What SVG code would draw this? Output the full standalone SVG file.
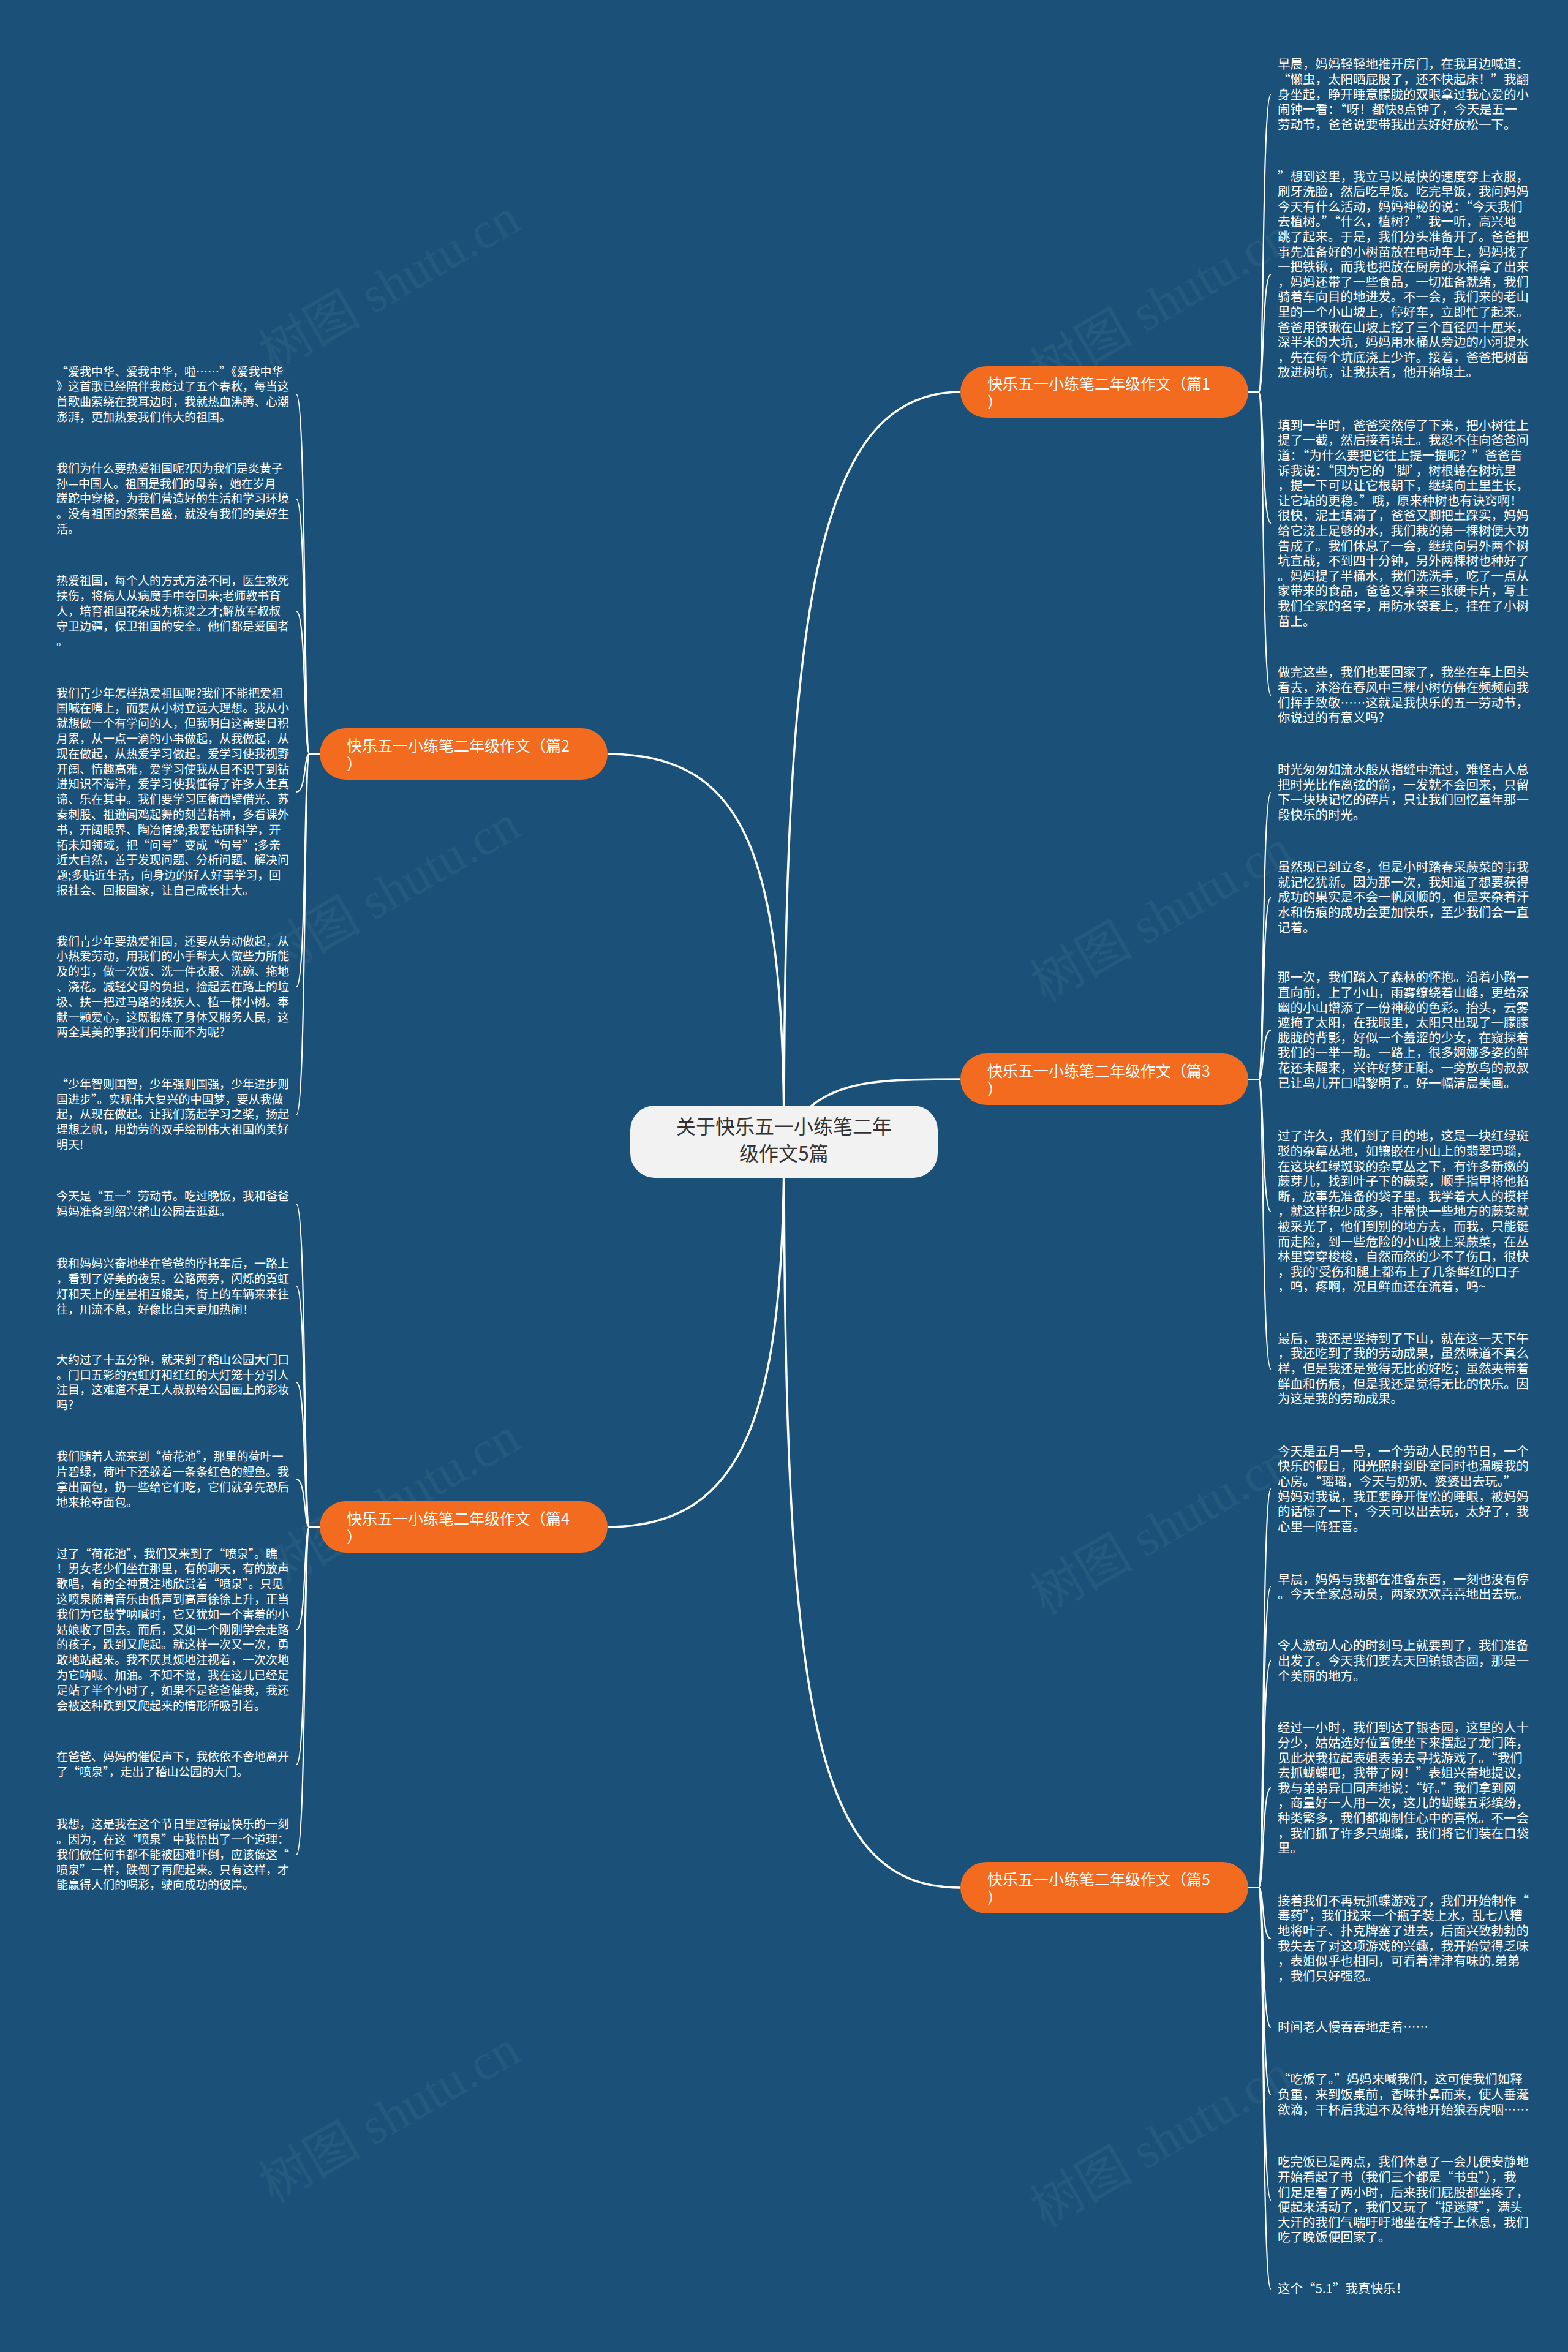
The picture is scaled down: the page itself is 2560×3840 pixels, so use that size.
<svg xmlns="http://www.w3.org/2000/svg" width="2560" height="3840" viewBox="0 0 2560 3840">
<style>
.bg{fill:#1b5178}
.wm{font-family:"Liberation Serif","Noto Sans CJK SC",serif;font-size:84px;fill:#ffffff;fill-opacity:0.05}
.r{font-family:"Noto Sans CJK SC",sans-serif;font-size:20.5px;fill:#ffffff}
.l{font-family:"Noto Sans CJK SC",sans-serif;font-size:19px;fill:#ffffff}
.br rect{fill:#f26b1f}
.br text{font-family:"Noto Sans CJK SC",sans-serif;font-size:25px;fill:#ffffff}
.main{fill:none;stroke:#ffffff;stroke-width:3.5}
.sub{fill:none;stroke:#ffffff;stroke-width:2.2}
</style>
<rect class="bg" x="0" y="0" width="2560" height="3840"/>
<g id="watermarks">
<text class="wm" x="650" y="490" text-anchor="middle" transform="rotate(-30 650 490)">树图 shutu.cn</text>
<text class="wm" x="1910" y="520" text-anchor="middle" transform="rotate(-30 1910 520)">树图 shutu.cn</text>
<text class="wm" x="650" y="1480" text-anchor="middle" transform="rotate(-30 650 1480)">树图 shutu.cn</text>
<text class="wm" x="1910" y="1520" text-anchor="middle" transform="rotate(-30 1910 1520)">树图 shutu.cn</text>
<text class="wm" x="650" y="2480" text-anchor="middle" transform="rotate(-30 650 2480)">树图 shutu.cn</text>
<text class="wm" x="1910" y="2520" text-anchor="middle" transform="rotate(-30 1910 2520)">树图 shutu.cn</text>
<text class="wm" x="650" y="3480" text-anchor="middle" transform="rotate(-30 650 3480)">树图 shutu.cn</text>
<text class="wm" x="1910" y="3520" text-anchor="middle" transform="rotate(-30 1910 3520)">树图 shutu.cn</text>
</g>
<g id="connectors">
<path class="main" d="M1280,1864 C1280,1000 1330,640 1568,640"/>
<path class="main" d="M1280,1864 C1280,1400 1220,1231 992,1231"/>
<path class="main" d="M1280,1864 C1330,1762 1420,1762 1568,1762"/>
<path class="main" d="M1280,1864 C1280,2300 1220,2493 992,2493"/>
<path class="main" d="M1280,1864 C1280,2800 1330,3082 1568,3082"/>
<g id="c1">
<path class="sub" d="M2038,640 L2055,640 C2064,640 2060,154 2075,154"/>
<path class="sub" d="M2038,640 L2055,640 C2064,640 2060,448 2075,448"/>
<path class="sub" d="M2038,640 L2055,640 C2064,640 2060,854 2075,854"/>
<path class="sub" d="M2038,640 L2055,640 C2064,640 2060,1135 2075,1135"/>
</g>
<g id="c3">
<path class="sub" d="M2038,1762 L2055,1762 C2064,1762 2060,1294 2075,1294"/>
<path class="sub" d="M2038,1762 L2055,1762 C2064,1762 2060,1465 2075,1465"/>
<path class="sub" d="M2038,1762 L2055,1762 C2064,1762 2060,1682 2075,1682"/>
<path class="sub" d="M2038,1762 L2055,1762 C2064,1762 2060,1978 2075,1978"/>
<path class="sub" d="M2038,1762 L2055,1762 C2064,1762 2060,2235 2075,2235"/>
</g>
<g id="c5">
<path class="sub" d="M2038,3082 L2055,3082 C2064,3082 2060,2431 2075,2431"/>
<path class="sub" d="M2038,3082 L2055,3082 C2064,3082 2060,2590 2075,2590"/>
<path class="sub" d="M2038,3082 L2055,3082 C2064,3082 2060,2712 2075,2712"/>
<path class="sub" d="M2038,3082 L2055,3082 C2064,3082 2060,2919 2075,2919"/>
<path class="sub" d="M2038,3082 L2055,3082 C2064,3082 2060,3165 2075,3165"/>
<path class="sub" d="M2038,3082 L2055,3082 C2064,3082 2060,3310 2075,3310"/>
<path class="sub" d="M2038,3082 L2055,3082 C2064,3082 2060,3420 2075,3420"/>
<path class="sub" d="M2038,3082 L2055,3082 C2064,3082 2060,3592 2075,3592"/>
<path class="sub" d="M2038,3082 L2055,3082 C2064,3082 2060,3737 2075,3737"/>
</g>
<g id="c2">
<path class="sub" d="M522,1231 L505,1231 C496,1231 500,644 484,644"/>
<path class="sub" d="M522,1231 L505,1231 C496,1231 500,815 484,815"/>
<path class="sub" d="M522,1231 L505,1231 C496,1231 500,998 484,998"/>
<path class="sub" d="M522,1231 L505,1231 C496,1231 500,1293 484,1293"/>
<path class="sub" d="M522,1231 L505,1231 C496,1231 500,1611 484,1611"/>
<path class="sub" d="M522,1231 L505,1231 C496,1231 500,1820 484,1820"/>
</g>
<g id="c4">
<path class="sub" d="M522,2493 L505,2493 C496,2493 500,1966 484,1966"/>
<path class="sub" d="M522,2493 L505,2493 C496,2493 500,2100 484,2100"/>
<path class="sub" d="M522,2493 L505,2493 C496,2493 500,2257 484,2257"/>
<path class="sub" d="M522,2493 L505,2493 C496,2493 500,2415 484,2415"/>
<path class="sub" d="M522,2493 L505,2493 C496,2493 500,2661 484,2661"/>
<path class="sub" d="M522,2493 L505,2493 C496,2493 500,2881 484,2881"/>
<path class="sub" d="M522,2493 L505,2493 C496,2493 500,3028 484,3028"/>
</g>
</g>
<g id="center">
<rect x="1029" y="1805" width="502" height="118" rx="40" fill="#f2f2f2"/>
<text x="1280" y="1851" text-anchor="middle" font-family="Noto Sans CJK SC, sans-serif" font-size="32" fill="#333333"><tspan x="1280">关于快乐五一小练笔二年</tspan><tspan x="1280" dy="44">级作文5篇</tspan></text>
</g>
<g id="b1" class="br"><rect x="1568" y="598" width="470" height="84" rx="42"/><text x="1612" y="636"><tspan x="1612">快乐五一小练笔二年级作文（篇1</tspan><tspan x="1612" dy="30">）</tspan></text></g>
<g id="b2" class="br"><rect x="522" y="1189" width="470" height="84" rx="42"/><text x="566" y="1227"><tspan x="566">快乐五一小练笔二年级作文（篇2</tspan><tspan x="566" dy="30">）</tspan></text></g>
<g id="b3" class="br"><rect x="1568" y="1720" width="470" height="84" rx="42"/><text x="1612" y="1758"><tspan x="1612">快乐五一小练笔二年级作文（篇3</tspan><tspan x="1612" dy="30">）</tspan></text></g>
<g id="b4" class="br"><rect x="522" y="2451" width="470" height="84" rx="42"/><text x="566" y="2489"><tspan x="566">快乐五一小练笔二年级作文（篇4</tspan><tspan x="566" dy="30">）</tspan></text></g>
<g id="b5" class="br"><rect x="1568" y="3040" width="470" height="84" rx="42"/><text x="1612" y="3078"><tspan x="1612">快乐五一小练笔二年级作文（篇5</tspan><tspan x="1612" dy="30">）</tspan></text></g>

<g id="p1-leaves">
<text class="r" y="112.4"><tspan x="2086">早晨，妈妈轻轻地推开房门，在我耳边喊道：</tspan><tspan x="2086" dy="24.6">“懒虫，太阳晒屁股了，还不快起床！”我翻</tspan><tspan x="2086" dy="24.6">身坐起，睁开睡意朦胧的双眼拿过我心爱的小</tspan><tspan x="2086" dy="24.6">闹钟一看：“呀！都快8点钟了，今天是五一</tspan><tspan x="2086" dy="24.6">劳动节，爸爸说要带我出去好好放松一下。</tspan></text>
<text class="r" y="295.6"><tspan x="2086">”想到这里，我立马以最快的速度穿上衣服，</tspan><tspan x="2086" dy="24.6">刷牙洗脸，然后吃早饭。吃完早饭，我问妈妈</tspan><tspan x="2086" dy="24.6">今天有什么活动，妈妈神秘的说：“今天我们</tspan><tspan x="2086" dy="24.6">去植树。”“什么，植树？”我一听，高兴地</tspan><tspan x="2086" dy="24.6">跳了起来。于是，我们分头准备开了。爸爸把</tspan><tspan x="2086" dy="24.6">事先准备好的小树苗放在电动车上，妈妈找了</tspan><tspan x="2086" dy="24.6">一把铁锹，而我也把放在厨房的水桶拿了出来</tspan><tspan x="2086" dy="24.6">，妈妈还带了一些食品，一切准备就绪，我们</tspan><tspan x="2086" dy="24.6">骑着车向目的地进发。不一会，我们来的老山</tspan><tspan x="2086" dy="24.6">里的一个小山坡上，停好车，立即忙了起来。</tspan><tspan x="2086" dy="24.6">爸爸用铁锹在山坡上挖了三个直径四十厘米，</tspan><tspan x="2086" dy="24.6">深半米的大坑，妈妈用水桶从旁边的小河提水</tspan><tspan x="2086" dy="24.6">，先在每个坑底浇上少许。接着，爸爸把树苗</tspan><tspan x="2086" dy="24.6">放进树坑，让我扶着，他开始填土。</tspan></text>
<text class="r" y="701.7"><tspan x="2086">填到一半时，爸爸突然停了下来，把小树往上</tspan><tspan x="2086" dy="24.6">提了一截，然后接着填土。我忍不住向爸爸问</tspan><tspan x="2086" dy="24.6">道：“为什么要把它往上提一提呢？”爸爸告</tspan><tspan x="2086" dy="24.6">诉我说：“因为它的‘脚’，树根蜷在树坑里</tspan><tspan x="2086" dy="24.6">，提一下可以让它根朝下，继续向土里生长，</tspan><tspan x="2086" dy="24.6">让它站的更稳。”哦，原来种树也有诀窍啊！</tspan><tspan x="2086" dy="24.6">很快，泥土填满了，爸爸又脚把土踩实，妈妈</tspan><tspan x="2086" dy="24.6">给它浇上足够的水，我们栽的第一棵树便大功</tspan><tspan x="2086" dy="24.6">告成了。我们休息了一会，继续向另外两个树</tspan><tspan x="2086" dy="24.6">坑宣战，不到四十分钟，另外两棵树也种好了</tspan><tspan x="2086" dy="24.6">。妈妈提了半桶水，我们洗洗手，吃了一点从</tspan><tspan x="2086" dy="24.6">家带来的食品，爸爸又拿来三张硬卡片，写上</tspan><tspan x="2086" dy="24.6">我们全家的名字，用防水袋套上，挂在了小树</tspan><tspan x="2086" dy="24.6">苗上。</tspan></text>
<text class="r" y="1105.4"><tspan x="2086">做完这些，我们也要回家了，我坐在车上回头</tspan><tspan x="2086" dy="24.6">看去，沐浴在春风中三棵小树仿佛在频频向我</tspan><tspan x="2086" dy="24.6">们挥手致敬……这就是我快乐的五一劳动节，</tspan><tspan x="2086" dy="24.6">你说过的有意义吗?</tspan></text>
</g>

<g id="p3-leaves">
<text class="r" y="1264.2"><tspan x="2086">时光匆匆如流水般从指缝中流过，难怪古人总</tspan><tspan x="2086" dy="24.6">把时光比作离弦的箭，一发就不会回来，只留</tspan><tspan x="2086" dy="24.6">下一块块记忆的碎片，只让我们回忆童年那一</tspan><tspan x="2086" dy="24.6">段快乐的时光。</tspan></text>
<text class="r" y="1423.1"><tspan x="2086">虽然现已到立冬，但是小时踏春采蕨菜的事我</tspan><tspan x="2086" dy="24.6">就记忆犹新。因为那一次，我知道了想要获得</tspan><tspan x="2086" dy="24.6">成功的果实是不会一帆风顺的，但是夹杂着汗</tspan><tspan x="2086" dy="24.6">水和伤痕的成功会更加快乐，至少我们会一直</tspan><tspan x="2086" dy="24.6">记着。</tspan></text>
<text class="r" y="1603.4"><tspan x="2086">那一次，我们踏入了森林的怀抱。沿着小路一</tspan><tspan x="2086" dy="24.6">直向前，上了小山，雨雾缭绕着山峰，更给深</tspan><tspan x="2086" dy="24.6">幽的小山增添了一份神秘的色彩。抬头，云雾</tspan><tspan x="2086" dy="24.6">遮掩了太阳，在我眼里，太阳只出现了一朦朦</tspan><tspan x="2086" dy="24.6">胧胧的背影，好似一个羞涩的少女，在窥探着</tspan><tspan x="2086" dy="24.6">我们的一举一动。一路上，很多婀娜多姿的鲜</tspan><tspan x="2086" dy="24.6">花还未醒来，兴许好梦正酣。一旁放鸟的叔叔</tspan><tspan x="2086" dy="24.6">已让鸟儿开口唱黎明了。好一幅清晨美画。</tspan></text>
<text class="r" y="1862.4"><tspan x="2086">过了许久，我们到了目的地，这是一块红绿斑</tspan><tspan x="2086" dy="24.6">驳的杂草丛地，如镶嵌在小山上的翡翠玛瑙，</tspan><tspan x="2086" dy="24.6">在这块红绿斑驳的杂草丛之下，有许多新嫩的</tspan><tspan x="2086" dy="24.6">蕨芽儿，找到叶子下的蕨菜，顺手指甲将他掐</tspan><tspan x="2086" dy="24.6">断，放事先准备的袋子里。我学着大人的模样</tspan><tspan x="2086" dy="24.6">，就这样积少成多，非常快一些地方的蕨菜就</tspan><tspan x="2086" dy="24.6">被采光了，他们到别的地方去，而我，只能铤</tspan><tspan x="2086" dy="24.6">而走险，到一些危险的小山坡上采蕨菜，在丛</tspan><tspan x="2086" dy="24.6">林里穿穿梭梭，自然而然的少不了伤口，很快</tspan><tspan x="2086" dy="24.6">，我的'受伤和腿上都布上了几条鲜红的口子</tspan><tspan x="2086" dy="24.6">，呜，疼啊，况且鲜血还在流着，呜~</tspan></text>
<text class="r" y="2192.8"><tspan x="2086">最后，我还是坚持到了下山，就在这一天下午</tspan><tspan x="2086" dy="24.6">，我还吃到了我的劳动成果，虽然味道不真么</tspan><tspan x="2086" dy="24.6">样，但是我还是觉得无比的好吃；虽然夹带着</tspan><tspan x="2086" dy="24.6">鲜血和伤痕，但是我还是觉得无比的快乐。因</tspan><tspan x="2086" dy="24.6">为这是我的劳动成果。</tspan></text>
</g>

<g id="p5-leaves">
<text class="r" y="2376.7"><tspan x="2086">今天是五月一号，一个劳动人民的节日，一个</tspan><tspan x="2086" dy="24.6">快乐的假日，阳光照射到卧室同时也温暖我的</tspan><tspan x="2086" dy="24.6">心房。“瑶瑶，今天与奶奶、婆婆出去玩。”</tspan><tspan x="2086" dy="24.6">妈妈对我说，我正要睁开惺忪的睡眼，被妈妈</tspan><tspan x="2086" dy="24.6">的话惊了一下，今天可以出去玩，太好了，我</tspan><tspan x="2086" dy="24.6">心里一阵狂喜。</tspan></text>
<text class="r" y="2585.6"><tspan x="2086">早晨，妈妈与我都在准备东西，一刻也没有停</tspan><tspan x="2086" dy="24.6">。今天全家总动员，两家欢欢喜喜地出去玩。</tspan></text>
<text class="r" y="2694.4"><tspan x="2086">令人激动人心的时刻马上就要到了，我们准备</tspan><tspan x="2086" dy="24.6">出发了。今天我们要去天回镇银杏园，那是一</tspan><tspan x="2086" dy="24.6">个美丽的地方。</tspan></text>
<text class="r" y="2828.4"><tspan x="2086">经过一小时，我们到达了银杏园，这里的人十</tspan><tspan x="2086" dy="24.6">分少，姑姑选好位置便坐下来摆起了龙门阵，</tspan><tspan x="2086" dy="24.6">见此状我拉起表姐表弟去寻找游戏了。“我们</tspan><tspan x="2086" dy="24.6">去抓蝴蝶吧，我带了网！”表姐兴奋地提议，</tspan><tspan x="2086" dy="24.6">我与弟弟异口同声地说：“好。”我们拿到网</tspan><tspan x="2086" dy="24.6">，商量好一人用一次，这儿的蝴蝶五彩缤纷，</tspan><tspan x="2086" dy="24.6">种类繁多，我们都抑制住心中的喜悦。不一会</tspan><tspan x="2086" dy="24.6">，我们抓了许多只蝴蝶，我们将它们装在口袋</tspan><tspan x="2086" dy="24.6">里。</tspan></text>
<text class="r" y="3110.7"><tspan x="2086">接着我们不再玩抓蝶游戏了，我们开始制作“</tspan><tspan x="2086" dy="24.6">毒药”，我们找来一个瓶子装上水，乱七八糟</tspan><tspan x="2086" dy="24.6">地将叶子、扑克牌塞了进去，后面兴致勃勃的</tspan><tspan x="2086" dy="24.6">我失去了对这项游戏的兴趣，我开始觉得乏味</tspan><tspan x="2086" dy="24.6">，表姐似乎也相同，可看着津津有味的.弟弟</tspan><tspan x="2086" dy="24.6">，我们只好强忍。</tspan></text>
<text class="r" y="3317.4"><tspan x="2086">时间老人慢吞吞地走着……</tspan></text>
<text class="r" y="3402.4"><tspan x="2086">“吃饭了。”妈妈来喊我们，这可使我们如释</tspan><tspan x="2086" dy="24.6">负重，来到饭桌前，香味扑鼻而来，使人垂涎</tspan><tspan x="2086" dy="24.6">欲滴，干杯后我迫不及待地开始狼吞虎咽……</tspan></text>
<text class="r" y="3537.4"><tspan x="2086">吃完饭已是两点，我们休息了一会儿便安静地</tspan><tspan x="2086" dy="24.6">开始看起了书（我们三个都是“书虫”），我</tspan><tspan x="2086" dy="24.6">们足足看了两小时，后来我们屁股都坐疼了，</tspan><tspan x="2086" dy="24.6">便起来活动了，我们又玩了“捉迷藏”，满头</tspan><tspan x="2086" dy="24.6">大汗的我们气喘吁吁地坐在椅子上休息，我们</tspan><tspan x="2086" dy="24.6">吃了晚饭便回家了。</tspan></text>
<text class="r" y="3744.1"><tspan x="2086">这个“5.1”我真快乐！</tspan></text>
</g>

<g id="p2-leaves">
<text class="l" y="613.5"><tspan x="92">“爱我中华、爱我中华，啦……”《爱我中华</tspan><tspan x="92" dy="24.8">》这首歌已经陪伴我度过了五个春秋，每当这</tspan><tspan x="92" dy="24.8">首歌曲萦绕在我耳边时，我就热血沸腾、心潮</tspan><tspan x="92" dy="24.8">澎湃，更加热爱我们伟大的祖国。</tspan></text>
<text class="l" y="771.8"><tspan x="92">我们为什么要热爱祖国呢?因为我们是炎黄子</tspan><tspan x="92" dy="24.8">孙—中国人。祖国是我们的母亲，她在岁月</tspan><tspan x="92" dy="24.8">蹉跎中穿梭，为我们营造好的生活和学习环境</tspan><tspan x="92" dy="24.8">。没有祖国的繁荣昌盛，就没有我们的美好生</tspan><tspan x="92" dy="24.8">活。</tspan></text>
<text class="l" y="955.1"><tspan x="92">热爱祖国，每个人的方式方法不同，医生救死</tspan><tspan x="92" dy="24.8">扶伤，将病人从病魔手中夺回来;老师教书育</tspan><tspan x="92" dy="24.8">人，培育祖国花朵成为栋梁之才;解放军叔叔</tspan><tspan x="92" dy="24.8">守卫边疆，保卫祖国的安全。他们都是爱国者</tspan><tspan x="92" dy="24.8">。</tspan></text>
<text class="l" y="1138.5"><tspan x="92">我们青少年怎样热爱祖国呢?我们不能把爱祖</tspan><tspan x="92" dy="24.8">国喊在嘴上，而要从小树立远大理想。我从小</tspan><tspan x="92" dy="24.8">就想做一个有学问的人，但我明白这需要日积</tspan><tspan x="92" dy="24.8">月累，从一点一滴的小事做起，从我做起，从</tspan><tspan x="92" dy="24.8">现在做起，从热爱学习做起。爱学习使我视野</tspan><tspan x="92" dy="24.8">开阔、情趣高雅，爱学习使我从目不识丁到钻</tspan><tspan x="92" dy="24.8">进知识不海洋，爱学习使我懂得了许多人生真</tspan><tspan x="92" dy="24.8">谛、乐在其中。我们要学习匡衡凿壁借光、苏</tspan><tspan x="92" dy="24.8">秦刺股、祖逊闻鸡起舞的刻苦精神，多看课外</tspan><tspan x="92" dy="24.8">书，开阔眼界、陶冶情操;我要钻研科学，开</tspan><tspan x="92" dy="24.8">拓未知领域，把“问号”变成“句号”;多亲</tspan><tspan x="92" dy="24.8">近大自然，善于发现问题、分析问题、解决问</tspan><tspan x="92" dy="24.8">题;多贴近生活，向身边的好人好事学习，回</tspan><tspan x="92" dy="24.8">报社会、回报国家，让自己成长壮大。</tspan></text>
<text class="l" y="1543.5"><tspan x="92">我们青少年要热爱祖国，还要从劳动做起，从</tspan><tspan x="92" dy="24.8">小热爱劳动，用我们的小手帮大人做些力所能</tspan><tspan x="92" dy="24.8">及的事，做一次饭、洗一件衣服、洗碗、拖地</tspan><tspan x="92" dy="24.8">、浇花。减轻父母的负担，捡起丢在路上的垃</tspan><tspan x="92" dy="24.8">圾、扶一把过马路的残疾人、植一棵小树。奉</tspan><tspan x="92" dy="24.8">献一颗爱心，这既锻炼了身体又服务人民，这</tspan><tspan x="92" dy="24.8">两全其美的事我们何乐而不为呢?</tspan></text>
<text class="l" y="1776.8"><tspan x="92">“少年智则国智，少年强则国强，少年进步则</tspan><tspan x="92" dy="24.8">国进步”。实现伟大复兴的中国梦，要从我做</tspan><tspan x="92" dy="24.8">起，从现在做起。让我们荡起学习之桨，扬起</tspan><tspan x="92" dy="24.8">理想之帆，用勤劳的双手绘制伟大祖国的美好</tspan><tspan x="92" dy="24.8">明天!</tspan></text>
</g>

<g id="p4-leaves">
<text class="l" y="1960.1"><tspan x="92">今天是“五一”劳动节。吃过晚饭，我和爸爸</tspan><tspan x="92" dy="24.8">妈妈准备到绍兴稽山公园去逛逛。</tspan></text>
<text class="l" y="2070.1"><tspan x="92">我和妈妈兴奋地坐在爸爸的摩托车后，一路上</tspan><tspan x="92" dy="24.8">，看到了好美的夜景。公路两旁，闪烁的霓虹</tspan><tspan x="92" dy="24.8">灯和天上的星星相互媲美，街上的车辆来来往</tspan><tspan x="92" dy="24.8">往，川流不息，好像比白天更加热闹！</tspan></text>
<text class="l" y="2226.8"><tspan x="92">大约过了十五分钟，就来到了稽山公园大门口</tspan><tspan x="92" dy="24.8">。门口五彩的霓虹灯和红红的大灯笼十分引人</tspan><tspan x="92" dy="24.8">注目，这难道不是工人叔叔给公园画上的彩妆</tspan><tspan x="92" dy="24.8">吗?</tspan></text>
<text class="l" y="2385.1"><tspan x="92">我们随着人流来到“荷花池”，那里的荷叶一</tspan><tspan x="92" dy="24.8">片碧绿，荷叶下还躲着一条条红色的鲤鱼。我</tspan><tspan x="92" dy="24.8">拿出面包，扔一些给它们吃，它们就争先恐后</tspan><tspan x="92" dy="24.8">地来抢夺面包。</tspan></text>
<text class="l" y="2543.5"><tspan x="92">过了“荷花池”，我们又来到了“喷泉”。瞧</tspan><tspan x="92" dy="24.8">！男女老少们坐在那里，有的聊天，有的放声</tspan><tspan x="92" dy="24.8">歌唱，有的全神贯注地欣赏着“喷泉”。只见</tspan><tspan x="92" dy="24.8">这喷泉随着音乐由低声到高声徐徐上升，正当</tspan><tspan x="92" dy="24.8">我们为它鼓掌呐喊时，它又犹如一个害羞的小</tspan><tspan x="92" dy="24.8">姑娘收了回去。而后，又如一个刚刚学会走路</tspan><tspan x="92" dy="24.8">的孩子，跌到又爬起。就这样一次又一次，勇</tspan><tspan x="92" dy="24.8">敢地站起来。我不厌其烦地注视着，一次次地</tspan><tspan x="92" dy="24.8">为它呐喊、加油。不知不觉，我在这儿已经足</tspan><tspan x="92" dy="24.8">足站了半个小时了，如果不是爸爸催我，我还</tspan><tspan x="92" dy="24.8">会被这种跌到又爬起来的情形所吸引着。</tspan></text>
<text class="l" y="2875.1"><tspan x="92">在爸爸、妈妈的催促声下，我依依不舍地离开</tspan><tspan x="92" dy="24.8">了“喷泉”，走出了稽山公园的大门。</tspan></text>
<text class="l" y="2985.1"><tspan x="92">我想，这是我在这个节日里过得最快乐的一刻</tspan><tspan x="92" dy="24.8">。因为，在这“喷泉”中我悟出了一个道理：</tspan><tspan x="92" dy="24.8">我们做任何事都不能被困难吓倒，应该像这“</tspan><tspan x="92" dy="24.8">喷泉”一样，跌倒了再爬起来。只有这样，才</tspan><tspan x="92" dy="24.8">能赢得人们的喝彩，驶向成功的彼岸。</tspan></text>
</g>
</svg>
